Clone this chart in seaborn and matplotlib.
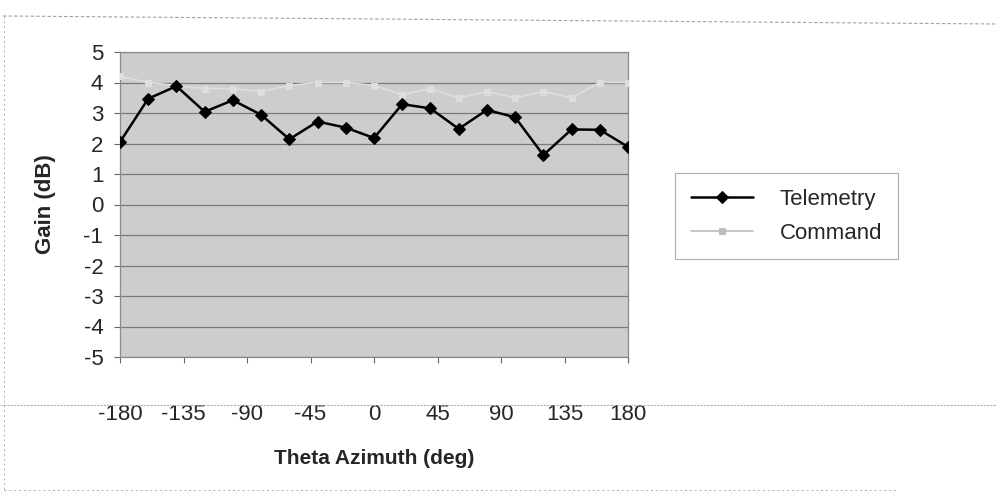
import numpy as np
import pandas as pd
import matplotlib
matplotlib.use("Agg")
import matplotlib.pyplot as plt
from matplotlib.lines import Line2D
import seaborn as sns

# dados
azimute = [-180, -160, -140, -120, -100, -80, -60, -40, -20, 0,
           20, 40, 60, 80, 100, 120, 140, 160, 180]
telemetria = [2.05, 3.47, 3.88, 3.04, 3.42, 2.94, 2.14, 2.72, 2.52, 2.18,
              3.29, 3.15, 2.48, 3.1, 2.86, 1.62, 2.46, 2.45, 1.89]
comando = [4.2, 4.0, 3.9, 3.8, 3.8, 3.7, 3.9, 4.0, 4.0, 3.9,
           3.6, 3.8, 3.5, 3.7, 3.5, 3.7, 3.5, 4.0, 4.0]
xticks = [-180, -135, -90, -45, 0, 45, 90, 135, 180]
yticks = list(range(-5, 6))

df = pd.DataFrame({'Theta': azimute, 'Telemetry': telemetria, 'Command': comando})

sns.set_style("white")
plt.rcParams['font.family'] = ['Liberation Sans', 'DejaVu Sans']
plt.rcParams['axes.unicode_minus'] = False

fig = plt.figure(figsize=(9.97, 5.01), dpi=100)
ax = fig.add_axes([120/997, 1-357/501, 508/997, 305/501])
ax.set_facecolor('#cdcdcd')

sns.lineplot(data=df, x='Theta', y='Command', ax=ax, color='#dedede',
             marker='s', markersize=5, markeredgecolor='#dedede', linewidth=1.2,
             label='Command', zorder=3)
sns.lineplot(data=df, x='Theta', y='Telemetry', ax=ax, color='black',
             marker='D', markersize=6.5, markeredgecolor='black', linewidth=1.8,
             label='Telemetry', zorder=4)

ax.set_xlim(-180, 180)
ax.set_ylim(-5, 5)
ax.set_xticks(xticks)
ax.set_yticks(yticks)
ax.grid(axis='y', color='#7a7a7a', linewidth=0.9)
ax.grid(axis='x', visible=False)
for s in ax.spines.values():
    s.set_color('#8a8a8a')
    s.set_linewidth(0.9)

ax.tick_params(axis='y', labelsize=16, pad=8, left=True, length=4, color='#666666')
ax.tick_params(axis='x', labelsize=16, pad=30, bottom=True, length=4, color='#666666')
ax.set_xlabel('Theta Azimuth (deg)', fontsize=15, fontweight='bold', labelpad=17)
ax.set_ylabel('Gain (dB)', fontsize=16, fontweight='bold', labelpad=20)

handles, labels = ax.get_legend_handles_labels()
leg = ax.legend(handles[::-1], labels[::-1], loc='upper left',
                bbox_to_anchor=(675/997, 1-173/501), bbox_transform=fig.transFigure,
                borderaxespad=0, fontsize=16, frameon=True, fancybox=False,
                handlelength=2.8, handletextpad=1.2, borderpad=0.7, labelspacing=0.6)
leg.get_frame().set_edgecolor('#9a9a9a')
leg.get_frame().set_linewidth(0.8)
leg.legend_handles[1].set_color('#bdbdbd')
leg.legend_handles[1].set_markeredgecolor('#bdbdbd')

# bordas do grafico digitalizado
fig.add_artist(Line2D([0, 1], [1-405/501, 1-405/501], color='#b0b0b0', lw=0.8, ls=(0, (2, 1))))
fig.add_artist(Line2D([0.003, 1], [1-16/501, 1-24/501], color='#a0a0a0', lw=0.8, ls=(0, (3, 2))))
fig.add_artist(Line2D([0.004, 0.004], [1-16/501, 1-490/501], color='#b0b0b0', lw=0.7, ls=(0, (2, 3))))
fig.add_artist(Line2D([0.004, 0.9], [1-490/501, 1-490/501], color='#b0b0b0', lw=0.7, ls=(0, (2, 3))))

fig.savefig('out.png', dpi=100)
